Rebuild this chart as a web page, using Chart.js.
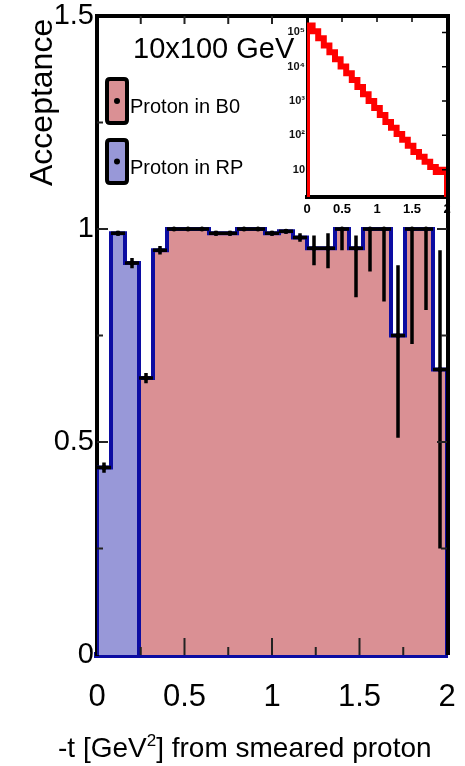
<!DOCTYPE html>
<html>
<head>
<meta charset="utf-8">
<script src="https://cdn.jsdelivr.net/npm/chart.js@4.4.0/dist/chart.umd.min.js"></script>
<style>
  html, body { margin: 0; padding: 0; background: #fff; }
  #wrap { position: relative; width: 465px; height: 766px; }
  #main { position: absolute; left: 0; top: 0; }
  #inset { position: absolute; left: 270px; top: 0; }
</style>
</head>
<body>
<div id="wrap">
  <canvas id="main" width="465" height="766"></canvas>
  <canvas id="inset" width="195" height="225"></canvas>
</div>
<script>
// bin edges in -t [GeV^2]
var binEdges = [0, 0.08, 0.16, 0.24, 0.32, 0.40, 0.48, 0.56, 0.64, 0.72, 0.80, 0.88, 0.96,
                1.04, 1.12, 1.20, 1.28, 1.36, 1.44, 1.52, 1.60, 1.68, 1.76, 1.84, 1.92, 2.00];

// acceptance, proton in RP (first three bins)
var accRP   = [0.44, 0.99, 0.92];
var errRPlo = [0.012, 0.006, 0.012];
var errRPhi = [0.012, 0.006, 0.012];

// acceptance, proton in B0 (bins from 0.24 on)
var accB0   = [0.65, 0.95, 1.00, 1.00, 1.00, 0.99, 0.99, 1.00, 1.00, 0.99, 0.995, 0.98,
               0.955, 0.955, 1.00, 0.955, 1.00, 1.00, 0.75, 1.00, 1.00, 0.67];
var errB0lo = [0.012, 0.01, 0.004, 0.004, 0.004, 0.006, 0.006, 0.004, 0.004, 0.006, 0.006, 0.01,
               0.04, 0.047, 0.05, 0.115, 0.10, 0.17, 0.24, 0.27, 0.19, 0.42];
var errB0hi = [0.012, 0.01, 0, 0, 0, 0.006, 0.006, 0, 0, 0.006, 0.005, 0.01,
               0.03, 0.035, 0, 0.03, 0, 0, 0.165, 0, 0, 0.28];

// inset: counts per bin (log scale)
var insetCounts = [158000, 107000, 67600, 41700, 26300, 16600, 10200, 6460, 4070, 2570,
                   1580, 1000, 631, 389, 245, 166, 110, 74, 50, 33, 24, 17, 12, 8.5, 10];

var xTicks = [0, 0.5, 1, 1.5, 2];
var yTicks = [0, 0.5, 1, 1.5];
var xTickMarks = [0.25, 0.5, 0.75, 1, 1.25, 1.5, 1.75];
var yTickMarks = [0.25, 0.5, 0.75, 1, 1.25];
var insetDecades = [10, 100, 1000, 10000, 100000];
var insetDecadeLabels = ['10', '10²', '10³', '10⁴', '10⁵'];

var FONT = '"Liberation Sans", Arial, Helvetica, sans-serif';
var RED_FILL = '#da9094', BLUE_FILL = '#9898d8', OUTLINE = '#0c0ca2';

// step outline of a histogram, closed down to zero at both ends
function histPoints(firstBin, values) {
  var pts = [{ x: binEdges[firstBin], y: 0 }];
  values.forEach(function (v, i) { pts.push({ x: binEdges[firstBin + i], y: v }); });
  pts.push({ x: binEdges[firstBin + values.length], y: 0 });
  return pts;
}

// fixed axis sizes; drop the label overhang padding chart.js adds
function fixSize(w, h) {
  return function (s) {
    if (w !== null) s.width = w;
    if (h !== null) s.height = h;
    s.paddingLeft = 0; s.paddingRight = 0; s.paddingTop = 0; s.paddingBottom = 0;
  };
}

var rpFirst = 0, b0First = accRP.length;

function drawErrors(ctx, xs, ys, firstBin, vals, lo, hi) {
  vals.forEach(function (v, i) {
    var x0 = xs.getPixelForValue(binEdges[firstBin + i]);
    var x1 = xs.getPixelForValue(binEdges[firstBin + i + 1]);
    var xc = (x0 + x1) / 2, yv = ys.getPixelForValue(v);
    ctx.beginPath();
    ctx.moveTo(x0, yv); ctx.lineTo(x1, yv);
    ctx.moveTo(xc, ys.getPixelForValue(v - lo[i]));
    ctx.lineTo(xc, ys.getPixelForValue(v + hi[i]));
    ctx.stroke();
    ctx.beginPath();
    ctx.arc(xc, yv, 2.5, 0, Math.PI * 2);
    ctx.fill();
  });
}

var errorBars = {
  id: 'errorBars',
  afterDatasetsDraw: function (chart) {
    var ctx = chart.ctx, xs = chart.scales.x, ys = chart.scales.y;
    ctx.save();
    ctx.strokeStyle = '#000'; ctx.fillStyle = '#000'; ctx.lineWidth = 3.5;
    drawErrors(ctx, xs, ys, rpFirst, accRP, errRPlo, errRPhi);
    drawErrors(ctx, xs, ys, b0First, accB0, errB0lo, errB0hi);
    ctx.restore();
  }
};

function legendBox(ctx, x, y, w, h, fill) {
  var r = 3;
  ctx.beginPath();
  ctx.moveTo(x + r, y); ctx.lineTo(x + w - r, y); ctx.quadraticCurveTo(x + w, y, x + w, y + r);
  ctx.lineTo(x + w, y + h - r); ctx.quadraticCurveTo(x + w, y + h, x + w - r, y + h);
  ctx.lineTo(x + r, y + h); ctx.quadraticCurveTo(x, y + h, x, y + h - r);
  ctx.lineTo(x, y + r); ctx.quadraticCurveTo(x, y, x + r, y);
  ctx.closePath();
  ctx.fillStyle = fill; ctx.fill();
  ctx.lineWidth = 4; ctx.strokeStyle = '#000'; ctx.stroke();
  ctx.beginPath(); ctx.arc(x + w / 2, y + h / 2, 3, 0, Math.PI * 2);
  ctx.fillStyle = '#000'; ctx.fill();
}

// ROOT-style frame: inward ticks, top/right frame, titles, legend
var rootFrame = {
  id: 'rootFrame',
  afterDraw: function (chart) {
    var ctx = chart.ctx, a = chart.chartArea, xs = chart.scales.x, ys = chart.scales.y;
    ctx.save();
    ctx.strokeStyle = '#000';
    ctx.lineWidth = 4;
    ctx.beginPath();
    ctx.moveTo(a.left - 2, a.top); ctx.lineTo(a.right + 2, a.top);
    ctx.moveTo(a.right + 1, a.top); ctx.lineTo(a.right + 1, a.bottom);
    ctx.stroke();

    ctx.lineWidth = 2; ctx.strokeStyle = '#222';
    ctx.beginPath();
    xTickMarks.forEach(function (t) {
      var px = xs.getPixelForValue(t), major = (t % 0.5 === 0);
      ctx.moveTo(px, a.bottom); ctx.lineTo(px, a.bottom - (major ? 17 : 8));
      ctx.moveTo(px, a.top); ctx.lineTo(px, a.top + 8);
    });
    yTickMarks.forEach(function (v) {
      var py = ys.getPixelForValue(v), major = (v % 0.5 === 0);
      ctx.moveTo(a.left, py); ctx.lineTo(a.left + (major ? 11 : 6), py);
      ctx.moveTo(a.right, py); ctx.lineTo(a.right - (major ? 10 : 6), py);
    });
    ctx.stroke();

    // axis titles
    ctx.fillStyle = '#000';
    ctx.textBaseline = 'alphabetic';
    ctx.textAlign = 'left';
    ctx.font = '28px ' + FONT;
    var tx = 58, ty = 757, s1 = '-t [GeV', s3 = '] from smeared proton';
    ctx.fillText(s1, tx, ty);
    tx += ctx.measureText(s1).width;
    ctx.font = '17px ' + FONT;
    ctx.fillText('2', tx, ty - 11);
    tx += ctx.measureText('2').width;
    ctx.font = '28px ' + FONT;
    ctx.fillText(s3, tx, ty);

    ctx.save();
    ctx.translate(52, 186);
    ctx.rotate(-Math.PI / 2);
    ctx.font = '32px ' + FONT;
    ctx.fillText('Acceptance', 0, 0);
    ctx.restore();

    // legend
    ctx.font = '29px ' + FONT;
    ctx.fillText('10x100 GeV', 133, 58);
    legendBox(ctx, 107, 79, 20, 44, RED_FILL);
    legendBox(ctx, 107, 140, 20, 43, BLUE_FILL);
    ctx.fillStyle = '#000';
    ctx.font = '20px ' + FONT;
    ctx.fillText('Proton in B0', 130, 113);
    ctx.fillText('Proton in RP', 130, 174);
    ctx.restore();
  }
};

new Chart(document.getElementById('main'), {
  type: 'line',
  data: {
    datasets: [
      { label: 'Proton in B0', data: histPoints(b0First, accB0), stepped: true,
        fill: 'origin', backgroundColor: RED_FILL, borderColor: OUTLINE, borderWidth: 4,
        pointRadius: 0 },
      { label: 'Proton in RP', data: histPoints(rpFirst, accRP), stepped: true,
        fill: 'origin', backgroundColor: BLUE_FILL, borderColor: OUTLINE, borderWidth: 4,
        pointRadius: 0 }
    ]
  },
  options: {
    responsive: false, animation: false, events: [],
    layout: { padding: { top: 16, right: 18, bottom: 0, left: 0 } },
    plugins: { legend: { display: false }, tooltip: { enabled: false } },
    scales: {
      x: {
        type: 'linear', min: 0, max: 2, z: 1,
        afterFit: fixSize(null, 111),
        afterBuildTicks: function (s) { s.ticks = xTicks.map(function (v) { return { value: v }; }); },
        grid: { display: false, drawTicks: false },
        border: { display: true, color: OUTLINE, width: 6 },
        ticks: { padding: 24, color: '#000', font: { family: FONT, size: 31 },
                 callback: function (v) { return String(v); } }
      },
      y: {
        type: 'linear', min: 0, max: 1.5,
        afterFit: fixSize(97, null),
        afterBuildTicks: function (s) { s.ticks = yTicks.map(function (v) { return { value: v }; }); },
        grid: { display: false, drawTicks: false },
        border: { display: true, color: '#000', width: 4 },
        ticks: { padding: 3, color: '#000', font: { family: FONT, size: 29, lineHeight: 1 },
                 callback: function (v) { return String(v); } }
      }
    }
  },
  plugins: [errorBars, rootFrame]
});

// inset: -t distribution on a log scale
var insetPts = [{ x: binEdges[0], y: 1 }];
insetCounts.forEach(function (c, i) { insetPts.push({ x: binEdges[i], y: c }); });
insetPts.push({ x: binEdges[insetCounts.length], y: 1 });

var insetFrame = {
  id: 'insetFrame',
  beforeDraw: function (chart) {
    var a = chart.chartArea, ctx = chart.ctx;
    ctx.save();
    ctx.fillStyle = '#fff';
    ctx.fillRect(a.left, a.top - 2, a.right - a.left + 4, a.bottom - a.top + 4);
    ctx.restore();
  },
  afterDraw: function (chart) {
    var a = chart.chartArea, ctx = chart.ctx, xs = chart.scales.x, ys = chart.scales.y;
    ctx.save();
    ctx.strokeStyle = '#000';
    ctx.lineWidth = 4;
    ctx.beginPath();
    ctx.moveTo(a.left - 2, a.top); ctx.lineTo(a.right + 3, a.top);
    ctx.moveTo(a.right + 1, a.top); ctx.lineTo(a.right + 1, a.bottom + 2);
    ctx.stroke();
    ctx.lineWidth = 1.5;
    ctx.beginPath();
    [0.5, 1, 1.5].forEach(function (t) {
      var px = xs.getPixelForValue(t);
      ctx.moveTo(px, a.top); ctx.lineTo(px, a.top + 6);
    });
    insetDecades.forEach(function (v) {
      var py = ys.getPixelForValue(v);
      ctx.moveTo(a.right, py); ctx.lineTo(a.right - 5, py);
    });
    ctx.stroke();
    ctx.restore();
  }
};

new Chart(document.getElementById('inset'), {
  type: 'line',
  data: {
    datasets: [{ data: insetPts, stepped: true, fill: false, borderColor: '#ff0000',
                 borderWidth: 6, pointRadius: 0 }]
  },
  options: {
    responsive: false, animation: false, events: [],
    layout: { padding: { top: 16, right: 18, bottom: 0, left: 0 } },
    plugins: { legend: { display: false }, tooltip: { enabled: false } },
    scales: {
      x: {
        type: 'linear', min: 0, max: 2,
        afterFit: fixSize(null, 28),
        afterBuildTicks: function (s) { s.ticks = xTicks.map(function (v) { return { value: v }; }); },
        grid: { display: false, drawTicks: false },
        border: { display: true, color: '#000', width: 4 },
        ticks: { padding: 5, color: '#000', font: { family: FONT, size: 13, weight: 'bold' },
                 callback: function (v) { return String(v); } }
      },
      y: {
        type: 'logarithmic', min: 1.6, max: 3e5,
        afterFit: fixSize(37, null),
        afterBuildTicks: function (s) { s.ticks = insetDecades.map(function (v) { return { value: v }; }); },
        grid: { display: false, drawTicks: false },
        border: { display: true, color: '#000', width: 3 },
        ticks: { padding: 2, color: '#111', font: { family: FONT, size: 11, weight: 'bold' },
                 callback: function (v) { return insetDecadeLabels[insetDecades.indexOf(v)]; } }
      }
    }
  },
  plugins: [insetFrame]
});
</script>
</body>
</html>
